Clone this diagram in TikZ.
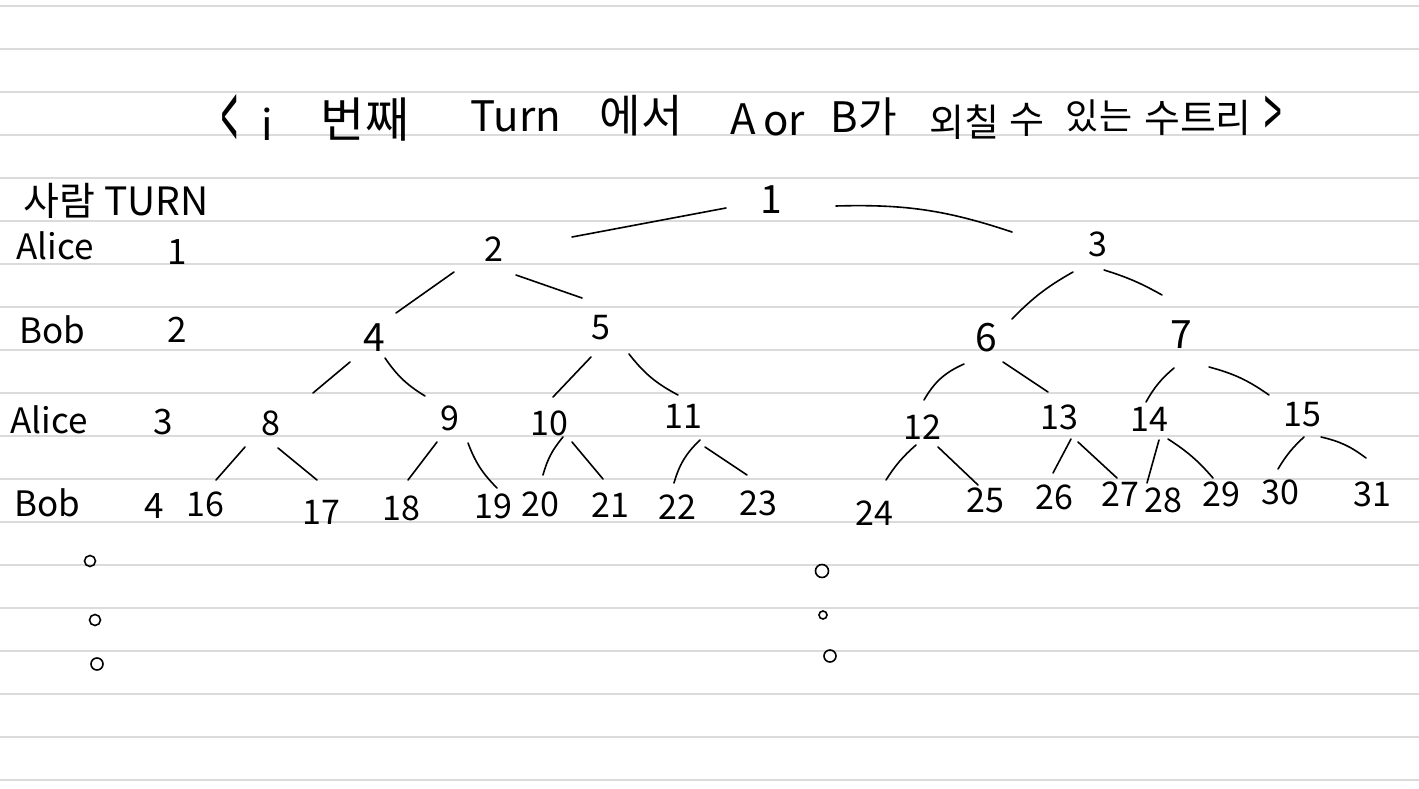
\documentclass[tikz,border=0pt]{standalone}
\usepackage{graphicx}
\usepackage{fontspec}
\setmainfont{Noto Sans CJK KR}
\tikzset{
  paper/.style={draw=black!14, line width=2pt},
  num/.style={font=\fontsize{34}{34}\selectfont, inner sep=0pt},
  bignum/.style={font=\fontsize{39}{39}\selectfont, inner sep=0pt},
  lab/.style={font=\fontsize{35}{35}\selectfont, inner sep=0pt},
  ttl/.style={font=\fontsize{42}{42}\selectfont, inner sep=0pt},
  link/.style={line width=1.6pt, line cap=round},
  dotc/.style={draw, circle, inner sep=0pt, line width=1.6pt},
}
\newcommand\tlink[5]{\draw[link] ([shift={#2}]#1.center) to[#5] ([shift={#4}]#3.center);}
\begin{document}
\begin{tikzpicture}[x=1pt,y=-1pt]
\useasboundingbox (0,0) rectangle (1419,789);
\fill[white] (0,0) rectangle (1419,789);
\foreach \k in {0,...,18} \draw[paper] (0,{6+43*\k}) -- (1419,{6+43*\k});

% title
\node[ttl] (t1) at (230,124) {\scalebox{0.7}[2.4]{<}};
\node[ttl] (t2) at (267,124) {i};
\node[ttl, font=\fontsize{48}{48}\selectfont] (t3) at (365,120) {번째};
\node[ttl] (t4) at (516,116) {Turn};
\node[ttl, font=\fontsize{45}{45}\selectfont] (t5) at (641,116) {에서};
\node[ttl] (t6) at (743,119) {A};
\node[ttl] (t7) at (784,124) {or};
\node[ttl] (t8) at (864,117) {B가};
\node[ttl, font=\fontsize{38}{38}\selectfont] (t9) at (964,122) {외칠};
\node[ttl, font=\fontsize{38}{38}\selectfont] (t10) at (1027,120) {수};
\node[ttl, font=\fontsize{36}{36}\selectfont] (t11) at (1099,116) {있는};
\node[ttl, font=\fontsize{39}{39}\selectfont] (t12) at (1198,118) {수트리};
\node[ttl] (t13) at (1273,117) {\scalebox{0.75}[1.7]{>}};

% left column
\node[lab, font=\fontsize{39}{39}\selectfont] (h) at (116,201) {사람 TURN};
\node[lab] (a1) at (55,246) {Alice};
\node[lab] (k1) at (177,252) {1};
\node[lab] (b2) at (52,330) {Bob};
\node[lab] (k2) at (177,330) {2};
\node[lab] (a3) at (49,420) {Alice};
\node[lab] (k3) at (163,422) {3};
\node[lab] (b4) at (47,503) {Bob};
\node[lab] (k4) at (154,506) {4};

% tree
\node[bignum] (n1) at (771,200) {1};
\node[num] (n2) at (494,249) {2};
\node[num] (n3) at (1098,244) {3};
\node[bignum] (n4) at (374,338) {4};
\node[num] (n5) at (601,328) {5};
\node[bignum] (n6) at (986,338) {6};
\node[bignum] (n7) at (1181,335) {7};
\node[num] (n8) at (271,423) {8};
\node[num] (n9) at (450,418) {9};
\node[num] (n10) at (549,423) {10};
\node[num] (n11) at (683,416) {11};
\node[num] (n12) at (922,427) {12};
\node[num] (n13) at (1059,417) {13};
\node[num] (n14) at (1149,419) {14};
\node[num] (n15) at (1302,415) {15};
\node[num] (n16) at (205,504) {16};
\node[num] (n17) at (321,512) {17};
\node[num] (n18) at (401,508) {18};
\node[num] (n19) at (493,506) {19};
\node[num] (n20) at (540,504) {20};
\node[num] (n21) at (610,505) {21};
\node[num] (n22) at (677,507) {22};
\node[num] (n23) at (758,503) {23};
\node[num] (n24) at (874,513) {24};
\node[num] (n25) at (985,500) {25};
\node[num] (n26) at (1054,497) {26};
\node[num] (n27) at (1120,494) {27};
\node[num] (n28) at (1163,500) {28};
\node[num] (n29) at (1221,494) {29};
\node[num] (n30) at (1280,492) {30};
\node[num] (n31) at (1372,494) {31};

% connectors
\tlink{n1}{(-45,8)}{n2}{(78,-12)}{}
\tlink{n1}{(65,6)}{n3}{(-86,-12)}{bend left=10}
\tlink{n2}{(-40,23)}{n4}{(22,-25)}{}
\tlink{n2}{(22,26)}{n5}{(-19,-30)}{}
\tlink{n3}{(-25,28)}{n6}{(26,-19)}{bend right=8}
\tlink{n3}{(6,26)}{n7}{(-19,-40)}{bend left=6}
\tlink{n4}{(-24,24)}{n8}{(42,-30)}{}
\tlink{n4}{(11,20)}{n9}{(-25,-22)}{bend right=12}
\tlink{n5}{(-10,29)}{n10}{(4,-26)}{}
\tlink{n5}{(28,26)}{n11}{(-5,-21)}{bend right=12}
\tlink{n6}{(-22,26)}{n12}{(2,-27)}{bend right=18}
\tlink{n6}{(17,24)}{n13}{(-11,-25)}{}
\tlink{n7}{(-7,33)}{n14}{(-3,-17)}{bend right=10}
\tlink{n7}{(28,32)}{n15}{(-33,-20)}{bend left=10}
\tlink{n8}{(-26,24)}{n16}{(11,-24)}{}
\tlink{n8}{(7,25)}{n17}{(-4,-32)}{}
\tlink{n9}{(-13,24)}{n18}{(7,-28)}{}
\tlink{n9}{(18,25)}{n19}{(4,-18)}{bend right=12}
\tlink{n10}{(14,14)}{n20}{(3,-29)}{bend right=12}
\tlink{n10}{(23,19)}{n21}{(-7,-26)}{}
\tlink{n11}{(17,24)}{n22}{(-3,-24)}{bend right=15}
\tlink{n11}{(22,31)}{n23}{(-11,-28)}{}
\tlink{n12}{(-6,18)}{n24}{(12,-33)}{bend right=8}
\tlink{n12}{(16,20)}{n25}{(-7,-15)}{}
\tlink{n13}{(12,22)}{n26}{(-1,-24)}{}
\tlink{n13}{(19,25)}{n27}{(-3,-16)}{}
\tlink{n14}{(10,21)}{n28}{(-16,-17)}{}
\tlink{n14}{(19,20)}{n29}{(-8,-16)}{bend left=8}
\tlink{n15}{(2,22)}{n30}{(-2,-23)}{bend right=8}
\tlink{n15}{(19,22)}{n31}{(-6,-36)}{bend left=12}

% ellipsis dots
\node[dotc, minimum size=11pt] (d1) at (90,561) {};
\node[dotc, minimum size=11pt] (d2) at (95,620) {};
\node[dotc, minimum size=12pt] (d3) at (97,664) {};
\node[dotc, minimum size=13pt] (d4) at (822,571) {};
\node[dotc, minimum size=8pt] (d5) at (823,615) {};
\node[dotc, minimum size=12pt] (d6) at (830,656) {};
\end{tikzpicture}
\end{document}
